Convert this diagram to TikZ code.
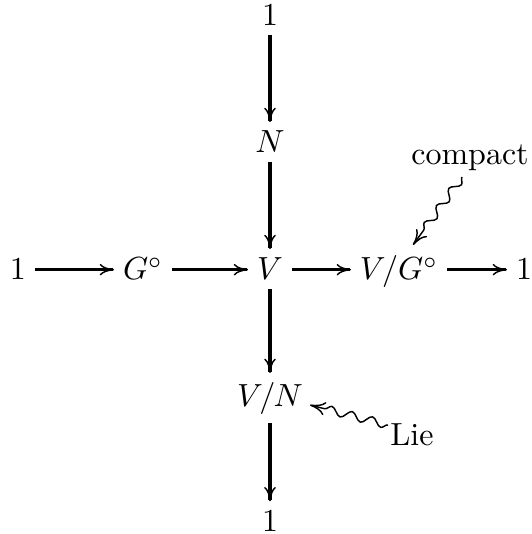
\documentclass[tikz,border=0pt]{standalone}
\usetikzlibrary{arrows.meta,decorations.pathmorphing}
\begin{document}
\begin{tikzpicture}[x=0.3125pt,y=-0.3125pt,
  cell/.style={anchor=base, inner xsep=2.6pt, inner ysep=2.6pt},
  arr/.style={line width=1pt, -{To[length=4.5pt,width=3.6pt,line width=0.45pt]}},
  squig/.style={line width=0.45pt, decorate,
    decoration={snake, amplitude=0.45mm, segment length=2.3mm, post length=1.5mm},
    -{To[length=4.8pt,width=4.2pt]}}]
\useasboundingbox (0,0) rectangle (531,534);
% vertical column
\node[cell] (t1) at (270,26) {$1$};
\node[cell] (N)  at (270,153) {$N$};
\node[cell] (V)  at (270,280) {$V$};
\node[cell] (VN) at (270,406) {$V/N$};
\node[cell] (b1) at (270,531) {$1$};
% horizontal row
\node[cell] (l1) at (18,280) {$1$};
\node[cell] (G)  at (143,280) {$G^\circ$};
\node[cell] (VG) at (399,280) {$V/G^\circ$};
\node[cell] (r1) at (524,280) {$1$};
% labels
\node[cell] (compact) at (470,165) {compact};
\node[cell] (Lie) at (412,445) {Lie};
% arrows
\draw[arr] (t1) -- (N);
\draw[arr] (N) -- (V);
\draw[arr] (V) -- (VN);
\draw[arr] (VN) -- (b1);
\draw[arr] (l1.east) -- (l1.east -| G.west);
\draw[arr] (G.east |- l1.east) -- (V.west |- l1.east);
\draw[arr] (V.east |- l1.east) -- (VG.west |- l1.east);
\draw[arr] (VG.east |- l1.east) -- (r1.west |- l1.east);
% squiggly arrows
\coordinate (cs) at (462,177);
\coordinate (ce) at (413,245);
\coordinate (ls) at (388,425);
\coordinate (le) at (310,405);
\draw[squig] (cs) -- (ce);
\draw[squig] (ls) -- (le);
\end{tikzpicture}
\end{document}
